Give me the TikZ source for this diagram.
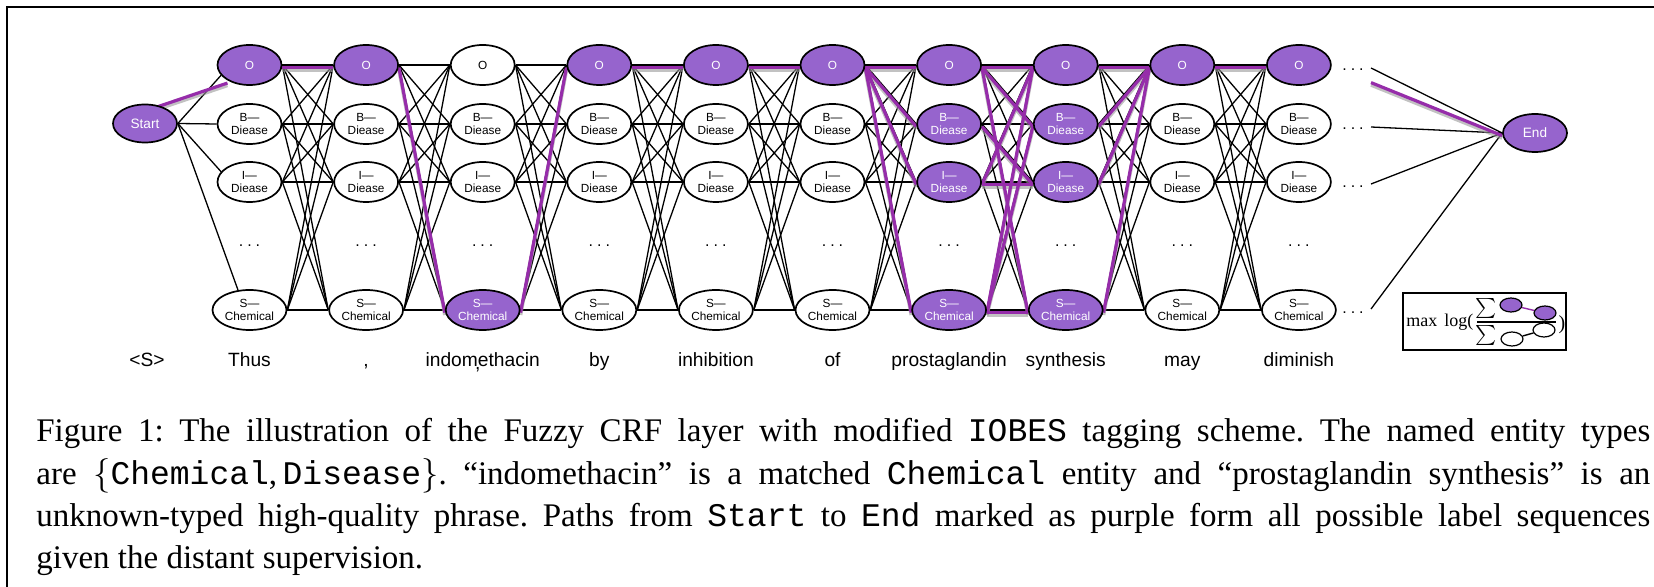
\documentclass[tikz,border=0pt]{standalone}
\usepackage{fontspec}
\setmainfont{Liberation Serif}
\setsansfont{Liberation Sans}
\setmonofont{Liberation Mono}
\usetikzlibrary{shapes.geometric,backgrounds}
\definecolor{tagfill}{RGB}{150,100,205}
\definecolor{pathpurple}{RGB}{150,45,170}
\newcommand\tagfont{\sffamily\fontsize{5.9}{6.6}\selectfont}
\frenchspacing
\begin{document}
\begin{tikzpicture}[x=0.5pt,y=-0.5pt,
  tagnode/.style={ellipse,draw,line width=0.85pt,fill=white,minimum width=32pt,minimum height=20pt,inner sep=0pt,align=center,font=\tagfont},
  chem/.style={minimum width=37pt},
  hot/.style={fill=tagfill,text=white},
  cold/.style={},
  termnode/.style={tagnode,hot,minimum height=19pt,font=\sffamily\fontsize{6.8}{7}\selectfont},
  dotsrow/.style={anchor=base,inner sep=0pt,font=\sffamily\fontsize{8}{8}\selectfont},
  word/.style={anchor=base,inner sep=0pt,font=\sffamily\fontsize{9.6}{10}\selectfont},
  link/.style={line width=0.65pt,black},
  pshadow/.style={line width=1.8pt,black!40,opacity=0.6,transform canvas={yshift=-2.5pt}},
  pedge/.style={line width=1.6pt,pathpurple,transform canvas={yshift=-1.3pt}},
  capline/.style={anchor=base west,inner sep=0pt,font=\fontsize{16.5}{21}\selectfont},
  mini/.style={ellipse,draw,line width=0.6pt,minimum width=11pt,minimum height=7pt,inner sep=0pt},
]
\useasboundingbox (0,0) rectangle (1654,587);

% frame
\draw[line width=1pt] (7,600) -- (7,7) -- (1660,7);

% start and end
\node[termnode] (Start) at (145,123.5) {Start};
\node[termnode] (End) at (1535,133) {End};

% tag columns
\foreach \i/\word/\so/\sb/\si/\ss in {
  1/Thus/hot/cold/cold/cold,
  2/{,}/hot/cold/cold/cold,
  3/{indom\makebox[0pt]{\raisebox{-1.5pt}{,}}ethacin}/cold/cold/cold/hot,
  4/by/hot/cold/cold/cold,
  5/inhibition/hot/cold/cold/cold,
  6/of/hot/cold/cold/cold,
  7/prostaglandin/hot/hot/hot/hot,
  8/synthesis/hot/hot/hot/hot,
  9/may/hot/cold/cold/cold,
  10/diminish/hot/cold/cold/cold}{
  \pgfmathsetmacro\cx{249.5+116.6*(\i-1)}
  \node[tagnode,\so] (O\i) at (\cx,65) {O};
  \node[tagnode,\sb] (B\i) at (\cx,124) {B—\\Diease};
  \node[tagnode,\si] (I\i) at (\cx,182) {I—\\Diease};
  \node[dotsrow] (D\i) at (\cx,247) {.\hspace{2pt}.\hspace{2pt}.};
  \node[tagnode,chem,\ss] (S\i) at (\cx,310) {S—\\Chemical};
  \node[word] (W\i) at (\cx,367) {\word};
}
\node[word] (W0) at (147,367) {<S>};

% trailing dots after the last column
\node[dotsrow] (EO) at (1353,71) {.\hspace{2pt}.\hspace{2pt}.};
\node[dotsrow] (EB) at (1353,130) {.\hspace{2pt}.\hspace{2pt}.};
\node[dotsrow] (EI) at (1353,188) {.\hspace{2pt}.\hspace{2pt}.};
\node[dotsrow] (ES) at (1353,314) {.\hspace{2pt}.\hspace{2pt}.};
\coordinate (RO) at (1371,68);
\coordinate (RP) at (1371,80);
\coordinate (RB) at (1371,127);
\coordinate (RI) at (1371,184);
\coordinate (RS) at (1371,309);

% objective box
\node[draw,line width=1pt,minimum width=81.5pt,minimum height=28.5pt,inner sep=0pt] (formula) at (1484.5,321.5) {};
\node[anchor=west,inner sep=0pt,font=\fontsize{9}{9}\selectfont] (maxlog) at (1406,322) {max\hspace{3.5pt}log(};
\node[inner sep=0pt,font=\fontsize{8.5}{8.5}\selectfont] (sumup) at (1486,309) {$\sum$};
\node[inner sep=0pt,font=\fontsize{8.5}{8.5}\selectfont] (sumdown) at (1486,336) {$\sum$};
\node[mini,fill=tagfill] (n1) at (1511,305) {};
\node[mini,fill=tagfill] (n2) at (1545,313) {};
\node[mini,fill=white] (d1) at (1512,339) {};
\node[mini,fill=white] (d2) at (1544,330) {};
\node[inner sep=0pt,font=\fontsize{10}{10}\selectfont] (rpar) at (1562,325) {)};
\coordinate (barL) at (1477,322);
\coordinate (barR) at (1556,322);
\draw[line width=1pt] (barL) -- (barR);
\draw[pathpurple,line width=0.7pt] (n1) -- (n2);
\draw[line width=0.7pt] (d1) -- (d2);

% connections
\def\hotlist{Start.60/O1.215, O1.east/O2.west, O2.east/S3.west, S3.east/O4.west,
  O4.east/O5.west, O5.east/O6.west, O6.east/O7.west, O6.east/B7.west,
  O6.east/I7.west, O6.east/S7.west, O7.east/O8.west, O7.east/B8.west,
  O7.east/S8.west, B7.east/I8.west, I7.east/I8.west, I7.east/O8.west,
  S7.east/O8.west, S7.east/B8.west, S7.east/S8.west, O8.east/O9.west,
  B8.east/O9.west, I8.east/O9.west, S8.east/O9.west, O9.east/O10.west,
  RP/End.west}
\begin{pgfonlayer}{background}
  \foreach \i [evaluate=\i as \j using int(\i+1)] in {1,...,9}
    \foreach \a in {O,B,I,S}
      \foreach \b in {O,B,I,S}
        \draw[link] (\a\i.east) -- (\b\j.west);
  \draw[link] (Start.east) -- (O1.200);
  \draw[link] (Start.east) -- (B1.west);
  \draw[link] (Start.east) -- (I1.160);
  \draw[link] (Start.east) -- (S1.120);
  \foreach \r in {RO,RB,RI,RS}
    \draw[link] (\r) -- (End.west);
  \foreach \a/\b in \hotlist
    \draw[pshadow] (\a) -- (\b);
  \foreach \a/\b in \hotlist
    \draw[pedge] (\a) -- (\b);
\end{pgfonlayer}

% caption
\node[capline] (cap1) at (36,442) {\makebox[807pt][s]{Figure 1: The illustration of the Fuzzy CRF layer with modified \texttt{IOBES} tagging scheme. The named entity types}};
\node[capline] (cap2) at (36,484) {\makebox[807pt][s]{are $\{$\texttt{Chemical},\,\texttt{Disease}$\}$. “indomethacin” is a matched \texttt{Chemical} entity and “prostaglandin synthesis” is an}};
\node[capline] (cap3) at (36,526) {\makebox[807pt][s]{unknown-typed high-quality phrase. Paths from \texttt{Start} to \texttt{End} marked as purple form all possible label sequences}};
\node[capline] (cap4) at (36,568) {given the distant supervision.};
\end{tikzpicture}
\end{document}
